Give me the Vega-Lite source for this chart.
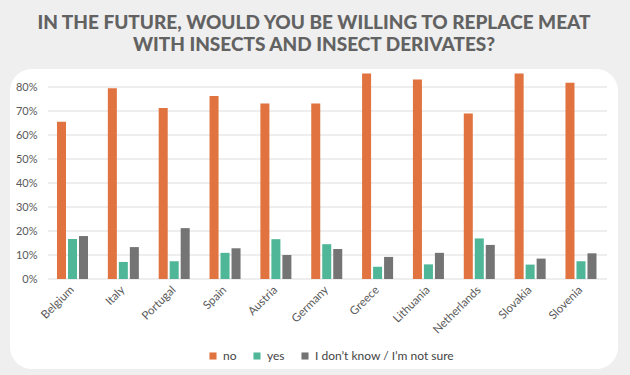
{
  "$schema": "https://vega.github.io/schema/vega-lite/v6.json",
  "width": 608,
  "height": 300,
  "autosize": "none",
  "padding": {"top": 69, "left": 10, "right": 12, "bottom": 6},
  "background": "#efefef",
  "title": {
    "text": ["IN THE FUTURE, WOULD YOU BE WILLING TO REPLACE MEAT", "WITH INSECTS AND INSECT DERIVATES?"],
    "font": "Lato",
    "fontWeight": 900,
    "fontSize": 19,
    "color": "#626262",
    "lineHeight": 22,
    "anchor": "middle",
    "offset": 14
  },
  "config": {
    "view": {"fill": "white", "stroke": null, "cornerRadius": 22},
    "axis": {"labelFont": "Lato", "labelColor": "#595959", "labelFontSize": 11},
    "axisY": {"labelOverlap": false},
    "legend": {"labelFont": "Lato", "labelColor": "#444444", "labelFontSize": 12}
  },
  "datasets": {
    "grid": [
      {"g": 0}, {"g": 0.1}, {"g": 0.2}, {"g": 0.3}, {"g": 0.4},
      {"g": 0.5}, {"g": 0.6}, {"g": 0.7}, {"g": 0.8}
    ],
    "survey": [
      {"country": "Belgium", "response": "no", "value": 0.655},
      {"country": "Belgium", "response": "yes", "value": 0.167},
      {"country": "Belgium", "response": "I don’t know / I’m not sure", "value": 0.179},
      {"country": "Italy", "response": "no", "value": 0.795},
      {"country": "Italy", "response": "yes", "value": 0.071},
      {"country": "Italy", "response": "I don’t know / I’m not sure", "value": 0.133},
      {"country": "Portugal", "response": "no", "value": 0.712},
      {"country": "Portugal", "response": "yes", "value": 0.074},
      {"country": "Portugal", "response": "I don’t know / I’m not sure", "value": 0.212},
      {"country": "Spain", "response": "no", "value": 0.762},
      {"country": "Spain", "response": "yes", "value": 0.109},
      {"country": "Spain", "response": "I don’t know / I’m not sure", "value": 0.128},
      {"country": "Austria", "response": "no", "value": 0.731},
      {"country": "Austria", "response": "yes", "value": 0.166},
      {"country": "Austria", "response": "I don’t know / I’m not sure", "value": 0.1},
      {"country": "Germany", "response": "no", "value": 0.731},
      {"country": "Germany", "response": "yes", "value": 0.145},
      {"country": "Germany", "response": "I don’t know / I’m not sure", "value": 0.125},
      {"country": "Greece", "response": "no", "value": 0.856},
      {"country": "Greece", "response": "yes", "value": 0.051},
      {"country": "Greece", "response": "I don’t know / I’m not sure", "value": 0.092},
      {"country": "Lithuania", "response": "no", "value": 0.831},
      {"country": "Lithuania", "response": "yes", "value": 0.061},
      {"country": "Lithuania", "response": "I don’t know / I’m not sure", "value": 0.109},
      {"country": "Netherlands", "response": "no", "value": 0.69},
      {"country": "Netherlands", "response": "yes", "value": 0.169},
      {"country": "Netherlands", "response": "I don’t know / I’m not sure", "value": 0.142},
      {"country": "Slovakia", "response": "no", "value": 0.856},
      {"country": "Slovakia", "response": "yes", "value": 0.06},
      {"country": "Slovakia", "response": "I don’t know / I’m not sure", "value": 0.085},
      {"country": "Slovenia", "response": "no", "value": 0.818},
      {"country": "Slovenia", "response": "yes", "value": 0.074},
      {"country": "Slovenia", "response": "I don’t know / I’m not sure", "value": 0.107}
    ]
  },
  "layer": [
    {
      "data": {"name": "grid"},
      "mark": {"type": "rule", "color": "#dddddd", "strokeWidth": 1},
      "encoding": {
        "x": {"datum": 0, "type": "quantitative", "scale": {"domain": [-0.7478, 11.2165], "nice": false, "zero": false}, "axis": null},
        "x2": {"datum": 11},
        "y": {"field": "g", "type": "quantitative", "axis": null}
      }
    },
    {
      "data": {"name": "survey"},
      "mark": {"type": "bar"},
      "encoding": {
        "x": {
          "field": "country",
          "type": "nominal",
          "sort": null,
          "scale": {"paddingInner": 0.39, "paddingOuter": 0.6735, "align": 0.686},
          "axis": {
            "title": null,
            "domain": false,
            "ticks": false,
            "grid": false,
            "labelAngle": -45,
            "labelAlign": "right",
            "labelBaseline": "middle",
            "labelPadding": 9,
            "labelFontSize": 11.5,
            "offset": -90
          }
        },
        "xOffset": {
          "field": "response",
          "type": "nominal",
          "sort": ["no", "yes", "I don’t know / I’m not sure"],
          "scale": {"paddingInner": 0.18, "paddingOuter": 0}
        },
        "y": {
          "field": "value",
          "type": "quantitative",
          "scale": {"domain": [-0.375, 0.875], "nice": false, "zero": false},
          "axis": {
            "title": null,
            "orient": "left",
            "values": [0, 0.1, 0.2, 0.3, 0.4, 0.5, 0.6, 0.7, 0.8],
            "format": ".0%",
            "domain": false,
            "ticks": false,
            "grid": false,
            "labelOverlap": false,
            "labelPadding": 3,
            "offset": -30
          }
        },
        "color": {
          "field": "response",
          "type": "nominal",
          "scale": {
            "domain": ["no", "yes", "I don’t know / I’m not sure"],
            "range": ["#E0733F", "#4FB797", "#747474"]
          },
          "legend": {
            "title": null,
            "orient": "none",
            "legendX": 197,
            "legendY": 281,
            "direction": "horizontal",
            "symbolType": "square",
            "symbolSize": 50,
            "columnPadding": 14
          }
        }
      }
    }
  ],
  "resolve": {"scale": {"x": "independent"}, "axis": {"x": "independent", "y": "independent"}}
}
